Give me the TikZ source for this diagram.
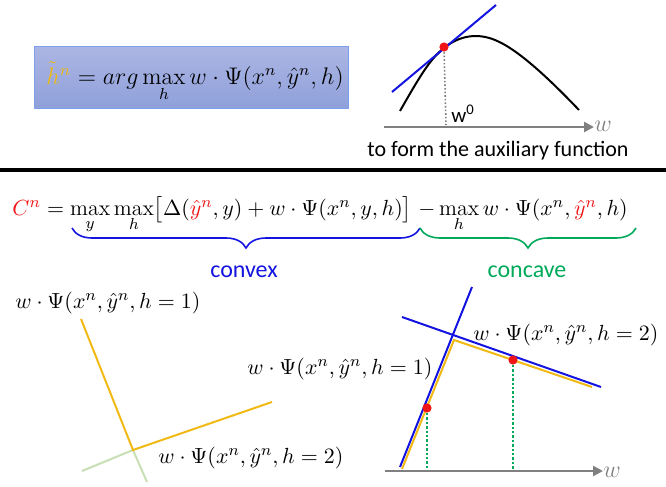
\documentclass[tikz,border=0pt]{standalone}
\usepackage{fontspec}
\setsansfont{Carlito}
\usepackage{amsmath}
\usetikzlibrary{arrows.meta, decorations.pathreplacing, calc}
\definecolor{ptred}{RGB}{240, 20, 20}
\definecolor{ptblue}{RGB}{20, 20, 225}
\definecolor{ptgold}{RGB}{240, 185, 20}
\definecolor{ptgreen}{RGB}{0, 170, 90}
\definecolor{ptpale}{RGB}{200, 222, 180}
\definecolor{axgray}{RGB}{128, 128, 128}
\definecolor{boxtop}{RGB}{172, 182, 228}
\definecolor{boxbot}{RGB}{143, 160, 218}
\definecolor{boxline}{RGB}{126, 160, 236}

\begin{document}
\begin{tikzpicture}[x=0.5pt, y=-0.5pt, >=Stealth,
  mth/.style={inner sep=0pt, font=\fontsize{11}{13}\selectfont},
  lbl/.style={mth, font=\fontsize{11.4}{13}\selectfont},
  txt/.style={inner sep=0pt, font=\sffamily\fontsize{10.5}{12}\selectfont},
  axis/.style={draw=axgray, line width=1.3pt, -{Triangle[length=5pt,width=5pt]}},
  reddot/.style={fill=ptred, circle, inner sep=0pt, minimum size=4.6pt},
  ln/.style={line width=1pt}]

\useasboundingbox (0,0) rectangle (666,487);

% === Caja con h tilde ===
\node[draw=boxline, top color=boxtop, bottom color=boxbot, minimum width=157pt, minimum height=31pt] (hbox) at (191,77) {};
\node[mth, font=\fontsize{11.8}{14}\selectfont, anchor=base] (hform) at (195,84)
  {$\color{ptgold}\tilde{h}^n \color{black} = arg\max\limits_h w\cdot\Psi(x^n,\hat{y}^n,h)$};

% === Funcion auxiliar (arriba derecha) ===
\coordinate (ax0) at (384,127);
\coordinate (ax1) at (594,127);
\draw[axis] (ax0) -- (ax1);
\node[mth, text=axgray, anchor=west] (wtop) at (594,126) {\large$w$};
\draw[ln, black] (400,111) .. controls (420,76) and (430,59) .. (444,48)
  .. controls (460,35) and (478,33) .. (495,40)
  .. controls (520,50) and (555,85) .. (579,110);
\coordinate (tg0) at (392,92);
\coordinate (tg1) at (496,5);
\draw[ln, ptblue] (tg0) -- (tg1);
\node[reddot] (top0) at (444,47) {};
\coordinate (foot0) at (446,125);
\draw[axgray, densely dotted, thick] (top0) -- (foot0);
\node[txt, anchor=base west] (wzero) at (451,122) {w\textsuperscript{0}};
\node[txt, font=\sffamily\fontsize{11}{13}\selectfont] (auxtxt) at (498,151) {to form the auxiliary function};

% === Separador ===
\coordinate (sep0) at (0,170);
\coordinate (sep1) at (666,170);
\draw[line width=2pt] (sep0) -- (sep1);

% === Costo C^n ===
\node[mth, anchor=base west] (cost) at (12,215)
  {$\color{ptred}C^n\color{black} = \max\limits_y \max\limits_h\bigl[\Delta(\color{ptred}\hat{y}^n\color{black},y) + w\cdot\Psi(x^n,y,h)\bigr]$};
\node[mth, anchor=base west] (concpart) at (418,215)
  {$-\max\limits_h w\cdot\Psi(x^n,\color{ptred}\hat{y}^n\color{black},h)$};
\coordinate (br0) at (72,228);
\coordinate (br1) at (420,228);
\coordinate (br2) at (636,228);
\draw[ptblue, thick, decorate, decoration={brace, mirror, amplitude=10pt}] (br0) -- (br1);
\draw[ptgreen, thick, decorate, decoration={brace, mirror, amplitude=10pt}] (br1) -- (br2);
\node[txt, text=ptblue, font=\sffamily\fontsize{12}{14}\selectfont] (cvx) at (244,272) {convex};
\node[txt, text=ptgreen, font=\sffamily\fontsize{12}{14}\selectfont] (ccv) at (527,272) {concave};

% === Dos rectas (abajo izquierda) ===
\node[lbl, anchor=base west] (lh1) at (15,308) {$w\cdot\Psi(x^n,\hat{y}^n,h=1)$};
\node[lbl, anchor=base west] (lh2) at (158,463) {$w\cdot\Psi(x^n,\hat{y}^n,h=2)$};
\coordinate (c1) at (81,319);
\coordinate (cx) at (133,450);
\coordinate (c2) at (272,402);
\coordinate (g1) at (82,471);
\coordinate (g2) at (147,482);
\draw[ln, ptpale] (g1) -- (cx) -- (g2);
\draw[ln, ptgold] (c1) -- (cx) -- (c2);

% === Cota concava (abajo derecha) ===
\coordinate (ax2) at (385,471);
\coordinate (ax3) at (603,471);
\draw[axis] (ax2) -- (ax3);
\node[mth, text=axgray, anchor=west] (wbot) at (603,472) {\large$w$};
\coordinate (y0) at (402,469);
\coordinate (yc) at (454,340);
\coordinate (y1) at (592,387);
\draw[ln, ptgold] (y0) -- (yc) -- (y1);
\coordinate (b1s) at (400,467);
\coordinate (b1e) at (472,287);
\coordinate (b2s) at (402,317);
\coordinate (b2e) at (601,387);
\draw[ln, ptblue] (b1s) -- (b1e);
\draw[ln, ptblue] (b2s) -- (b2e);
\node[reddot] (rd1) at (427,408) {};
\node[reddot] (rd2) at (513,360) {};
\coordinate (f1) at (427,470);
\coordinate (f2) at (513,470);
\draw[ptgreen, densely dotted, line width=1.2pt] (rd1) -- (f1);
\draw[ptgreen, densely dotted, line width=1.2pt] (rd2) -- (f2);
\node[lbl, anchor=base west] (rh2) at (473,340) {$w\cdot\Psi(x^n,\hat{y}^n,h=2)$};
\node[lbl, anchor=base west] (rh1) at (247,374) {$w\cdot\Psi(x^n,\hat{y}^n,h=1)$};

\end{tikzpicture}
\end{document}
